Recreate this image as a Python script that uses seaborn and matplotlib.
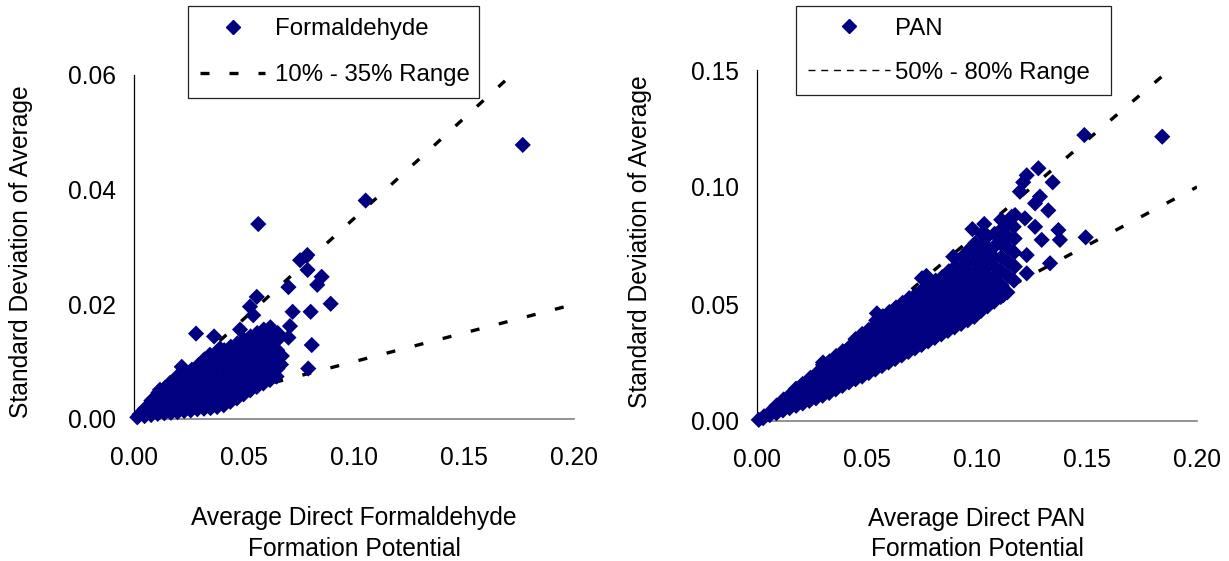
import matplotlib
matplotlib.use("Agg")
import matplotlib.pyplot as plt
from matplotlib.lines import Line2D
from matplotlib.ticker import FormatStrFormatter
import seaborn as sns
import pandas as pd

# ---------------- data ----------------
form_x = [
    0.0015, 0.0025,
    0.0048, 0.0052, 0.0050,
    0.0078, 0.0082, 0.0080, 0.0079,
    0.0108, 0.0112, 0.0110, 0.0109, 0.0111,
    0.0138, 0.0142, 0.0139, 0.0141, 0.0140,
    0.0168, 0.0172, 0.0170, 0.0169, 0.0171,
    0.0198, 0.0203, 0.0196, 0.0205, 0.0201, 0.0199,
    0.0228, 0.0232, 0.0229, 0.0231, 0.0227, 0.0233,
    0.0258, 0.0262, 0.0259, 0.0261, 0.0257, 0.0263,
    0.0288, 0.0292, 0.0289, 0.0291, 0.0287, 0.0293,
    0.0318, 0.0322, 0.0319, 0.0321, 0.0317, 0.0323, 0.0320,
    0.0348, 0.0352, 0.0349, 0.0351, 0.0347, 0.0353, 0.0350,
    0.0378, 0.0382, 0.0379, 0.0381, 0.0377, 0.0383, 0.0380,
    0.0408, 0.0412, 0.0409, 0.0411, 0.0407, 0.0413, 0.0410,
    0.0438, 0.0442, 0.0439, 0.0441, 0.0437, 0.0443, 0.0440,
    0.0468, 0.0472, 0.0469, 0.0471, 0.0467, 0.0473, 0.0470,
    0.0498, 0.0502, 0.0499, 0.0501, 0.0497, 0.0503, 0.0500,
    0.0528, 0.0532, 0.0529, 0.0531, 0.0527, 0.0533, 0.0530,
    0.0558, 0.0562, 0.0559, 0.0561, 0.0557, 0.0563, 0.0560,
    0.0588, 0.0592, 0.0589, 0.0591, 0.0587, 0.0593, 0.0590,
    0.0618, 0.0622, 0.0619, 0.0621, 0.0617, 0.0623, 0.0620,
    0.0648, 0.0652, 0.0649, 0.0651, 0.0647, 0.0653,
    0.1767, 0.1053, 0.0565, 0.0755, 0.0788, 0.0789, 0.0853, 0.0833,
    0.0702, 0.0558, 0.0894, 0.0721, 0.0803, 0.0527, 0.0542, 0.0709,
    0.0482, 0.0282, 0.0364, 0.0702, 0.0808, 0.0391, 0.0345, 0.0217,
    0.0792, 0.0209, 0.0164, 0.0118, 0.0672, 0.0668,
]
form_y = [
    0.0003, 0.0008,
    0.0005, 0.0012, 0.0018,
    0.0007, 0.0015, 0.0024, 0.0032,
    0.0009, 0.0018, 0.0028, 0.0038, 0.0046,
    0.0010, 0.0020, 0.0031, 0.0042, 0.0054,
    0.0011, 0.0023, 0.0035, 0.0048, 0.0060,
    0.0012, 0.0025, 0.0038, 0.0052, 0.0066, 0.0075,
    0.0014, 0.0028, 0.0042, 0.0056, 0.0070, 0.0080,
    0.0015, 0.0030, 0.0045, 0.0060, 0.0075, 0.0086,
    0.0017, 0.0033, 0.0049, 0.0065, 0.0080, 0.0094,
    0.0018, 0.0034, 0.0050, 0.0066, 0.0082, 0.0098, 0.0104,
    0.0019, 0.0036, 0.0053, 0.0070, 0.0087, 0.0102, 0.0110,
    0.0021, 0.0038, 0.0055, 0.0072, 0.0090, 0.0106, 0.0114,
    0.0024, 0.0041, 0.0058, 0.0075, 0.0092, 0.0108, 0.0120,
    0.0030, 0.0046, 0.0062, 0.0079, 0.0096, 0.0112, 0.0126,
    0.0036, 0.0052, 0.0068, 0.0084, 0.0100, 0.0116, 0.0132,
    0.0043, 0.0058, 0.0074, 0.0090, 0.0106, 0.0122, 0.0138,
    0.0050, 0.0064, 0.0080, 0.0096, 0.0112, 0.0128, 0.0144,
    0.0056, 0.0070, 0.0086, 0.0102, 0.0118, 0.0134, 0.0150,
    0.0062, 0.0076, 0.0092, 0.0108, 0.0124, 0.0140, 0.0156,
    0.0068, 0.0082, 0.0098, 0.0114, 0.0130, 0.0146, 0.0160,
    0.0074, 0.0088, 0.0104, 0.0120, 0.0136, 0.0150,
    0.0478, 0.0381, 0.0340, 0.0277, 0.0286, 0.0260, 0.0248, 0.0234,
    0.0230, 0.0213, 0.0201, 0.0187, 0.0187, 0.0196, 0.0181, 0.0162,
    0.0156, 0.0149, 0.0144, 0.0142, 0.0129, 0.0123, 0.0112, 0.0091,
    0.0088, 0.0074, 0.0063, 0.0051, 0.0110, 0.0095,
]

pan_x = [
    0.0008,
    0.0028, 0.0032,
    0.0058, 0.0062,
    0.0088, 0.0092, 0.0089,
    0.0118, 0.0122, 0.0119, 0.0121,
    0.0148, 0.0152, 0.0149, 0.0151,
    0.0178, 0.0182, 0.0179, 0.0181, 0.0177,
    0.0208, 0.0212, 0.0209, 0.0211, 0.0207,
    0.0238, 0.0242, 0.0239, 0.0241, 0.0237, 0.0243,
    0.0268, 0.0272, 0.0269, 0.0271, 0.0267, 0.0273,
    0.0298, 0.0302, 0.0299, 0.0301, 0.0297, 0.0303, 0.0300,
    0.0328, 0.0332, 0.0329, 0.0331, 0.0327, 0.0333, 0.0330,
    0.0358, 0.0362, 0.0359, 0.0361, 0.0357, 0.0363, 0.0360,
    0.0388, 0.0392, 0.0389, 0.0391, 0.0387, 0.0393, 0.0390,
    0.0418, 0.0422, 0.0419, 0.0421, 0.0417, 0.0423, 0.0420,
    0.0448, 0.0452, 0.0449, 0.0451, 0.0447, 0.0453, 0.0450, 0.0448,
    0.0478, 0.0482, 0.0479, 0.0481, 0.0477, 0.0483, 0.0480, 0.0478,
    0.0508, 0.0512, 0.0509, 0.0511, 0.0507, 0.0513, 0.0510, 0.0508,
    0.0538, 0.0542, 0.0539, 0.0541, 0.0537, 0.0543, 0.0540, 0.0538, 0.0542,
    0.0568, 0.0572, 0.0569, 0.0571, 0.0567, 0.0573, 0.0570, 0.0568, 0.0572,
    0.0598, 0.0602, 0.0599, 0.0601, 0.0597, 0.0603, 0.0600, 0.0598, 0.0602,
    0.0628, 0.0632, 0.0629, 0.0631, 0.0627, 0.0633, 0.0630, 0.0628, 0.0632,
    0.0658, 0.0662, 0.0659, 0.0661, 0.0657, 0.0663, 0.0660, 0.0658, 0.0662,
    0.0688, 0.0692, 0.0689, 0.0691, 0.0687, 0.0693, 0.0690, 0.0688, 0.0692,
    0.0718, 0.0722, 0.0719, 0.0721, 0.0717, 0.0723, 0.0720, 0.0718, 0.0722,
    0.0748, 0.0752, 0.0749, 0.0751, 0.0747, 0.0753, 0.0750, 0.0748, 0.0752, 0.0750,
    0.0778, 0.0782, 0.0779, 0.0781, 0.0777, 0.0783, 0.0780, 0.0778, 0.0782,
    0.0808, 0.0812, 0.0809, 0.0811, 0.0807, 0.0813, 0.0810, 0.0808, 0.0812,
    0.0838, 0.0842, 0.0839, 0.0841, 0.0837, 0.0843, 0.0840, 0.0838, 0.0842,
    0.0868, 0.0872, 0.0869, 0.0871, 0.0867, 0.0873, 0.0870, 0.0868, 0.0872,
    0.0898, 0.0902, 0.0899, 0.0901, 0.0897, 0.0903, 0.0900, 0.0898, 0.0902,
    0.0928, 0.0932, 0.0929, 0.0931, 0.0927, 0.0933, 0.0930, 0.0928, 0.0932,
    0.0958, 0.0962, 0.0959, 0.0961, 0.0957, 0.0963, 0.0960, 0.0958, 0.0962,
    0.0988, 0.0992, 0.0989, 0.0991, 0.0987, 0.0993, 0.0990, 0.0988, 0.0992,
    0.1018, 0.1022, 0.1019, 0.1021, 0.1017, 0.1023, 0.1020, 0.1018, 0.1022,
    0.1048, 0.1052, 0.1049, 0.1051, 0.1047, 0.1053, 0.1050, 0.1048,
    0.1078, 0.1082, 0.1079, 0.1081, 0.1077, 0.1083, 0.1080,
    0.1108, 0.1112, 0.1109, 0.1111, 0.1107, 0.1113, 0.1110,
    0.1138, 0.1142, 0.1139, 0.1141, 0.1137, 0.1143,
    0.1168, 0.1172, 0.1169, 0.1171, 0.1167, 0.1173,
    0.1842, 0.1488, 0.1279, 0.1226, 0.1210, 0.1344, 0.1195, 0.1286,
    0.1264, 0.1324, 0.1218, 0.1264, 0.1158, 0.1033, 0.0979, 0.1370,
    0.1294, 0.1377, 0.1494, 0.1226, 0.1332, 0.1226, 0.1120, 0.0892,
    0.0300, 0.0545, 0.0770,
]
pan_y = [
    0.0005,
    0.0012, 0.0020,
    0.0025, 0.0040,
    0.0033, 0.0050, 0.0066,
    0.0045, 0.0062, 0.0080, 0.0092,
    0.0055, 0.0075, 0.0095, 0.0112,
    0.0065, 0.0085, 0.0105, 0.0125, 0.0138,
    0.0075, 0.0095, 0.0117, 0.0138, 0.0158,
    0.0086, 0.0108, 0.0130, 0.0152, 0.0175, 0.0185,
    0.0097, 0.0120, 0.0143, 0.0166, 0.0190, 0.0205,
    0.0108, 0.0132, 0.0156, 0.0180, 0.0204, 0.0228, 0.0240,
    0.0120, 0.0145, 0.0170, 0.0195, 0.0220, 0.0245, 0.0255,
    0.0135, 0.0160, 0.0185, 0.0210, 0.0235, 0.0260, 0.0278,
    0.0150, 0.0175, 0.0200, 0.0225, 0.0250, 0.0275, 0.0298,
    0.0165, 0.0190, 0.0215, 0.0240, 0.0265, 0.0290, 0.0315,
    0.0178, 0.0204, 0.0230, 0.0256, 0.0282, 0.0308, 0.0334, 0.0350,
    0.0190, 0.0216, 0.0242, 0.0268, 0.0294, 0.0320, 0.0346, 0.0372,
    0.0205, 0.0231, 0.0257, 0.0283, 0.0309, 0.0335, 0.0361, 0.0390,
    0.0220, 0.0246, 0.0272, 0.0298, 0.0324, 0.0350, 0.0376, 0.0405, 0.0430,
    0.0235, 0.0262, 0.0289, 0.0316, 0.0343, 0.0370, 0.0397, 0.0424, 0.0448,
    0.0250, 0.0277, 0.0304, 0.0331, 0.0358, 0.0385, 0.0412, 0.0439, 0.0466,
    0.0265, 0.0292, 0.0319, 0.0346, 0.0373, 0.0400, 0.0427, 0.0454, 0.0485,
    0.0280, 0.0308, 0.0336, 0.0364, 0.0392, 0.0420, 0.0448, 0.0476, 0.0505,
    0.0295, 0.0323, 0.0351, 0.0379, 0.0407, 0.0435, 0.0463, 0.0491, 0.0525,
    0.0310, 0.0338, 0.0366, 0.0394, 0.0422, 0.0450, 0.0478, 0.0506, 0.0540,
    0.0325, 0.0354, 0.0383, 0.0412, 0.0441, 0.0470, 0.0499, 0.0528, 0.0560, 0.0610,
    0.0340, 0.0369, 0.0398, 0.0427, 0.0456, 0.0485, 0.0514, 0.0543, 0.0575,
    0.0355, 0.0385, 0.0415, 0.0445, 0.0475, 0.0505, 0.0535, 0.0565, 0.0600,
    0.0370, 0.0400, 0.0430, 0.0460, 0.0490, 0.0520, 0.0550, 0.0580, 0.0615,
    0.0385, 0.0415, 0.0445, 0.0475, 0.0505, 0.0535, 0.0565, 0.0600, 0.0640,
    0.0400, 0.0430, 0.0460, 0.0490, 0.0520, 0.0550, 0.0585, 0.0620, 0.0660,
    0.0415, 0.0445, 0.0475, 0.0505, 0.0540, 0.0575, 0.0610, 0.0650, 0.0700,
    0.0430, 0.0465, 0.0500, 0.0535, 0.0570, 0.0605, 0.0640, 0.0680, 0.0730,
    0.0445, 0.0485, 0.0525, 0.0560, 0.0600, 0.0640, 0.0680, 0.0720, 0.0760,
    0.0470, 0.0510, 0.0550, 0.0590, 0.0630, 0.0670, 0.0710, 0.0750, 0.0800,
    0.0490, 0.0540, 0.0580, 0.0620, 0.0660, 0.0700, 0.0740, 0.0790,
    0.0510, 0.0560, 0.0610, 0.0660, 0.0700, 0.0750, 0.0800,
    0.0530, 0.0580, 0.0640, 0.0700, 0.0760, 0.0820, 0.0860,
    0.0550, 0.0620, 0.0680, 0.0740, 0.0790, 0.0850,
    0.0600, 0.0660, 0.0720, 0.0780, 0.0830, 0.0880,
    0.1215, 0.1222, 0.1080, 0.1050, 0.1020, 0.1020, 0.0980, 0.0959,
    0.0930, 0.0900, 0.0866, 0.0830, 0.0873, 0.0842, 0.0820, 0.0816,
    0.0774, 0.0774, 0.0785, 0.0709, 0.0674, 0.0631, 0.0538, 0.0702,
    0.0250, 0.0460, 0.0620,
]
assert len(form_x) == len(form_y) and len(pan_x) == len(pan_y)

# range lines (end points)
form_hi_x = [0.0, 0.175]
form_hi_y = [0.0, 0.0612]
form_lo_x = [0.0, 0.200]
form_lo_y = [0.0, 0.0200]
pan_hi_x = [0.0, 0.190]
pan_hi_y = [0.0, 0.1520]
pan_lo_x = [0.0, 0.200]
pan_lo_y = [0.0, 0.1000]

x_ticks = [0.00, 0.05, 0.10, 0.15, 0.20]
form_y_ticks = [0.00, 0.02, 0.04, 0.06]
pan_y_ticks = [0.00, 0.05, 0.10, 0.15]

series_labels = ["Formaldehyde", "PAN"]
range_labels = ["10% - 35% Range", "50% - 80% Range"]
x_labels = ["Average Direct Formaldehyde\nFormation Potential",
            "Average Direct PAN\nFormation Potential"]
y_label = "Standard Deviation of Average"

# ---------------- style ----------------
sns.set_style("white")
plt.rcParams["font.family"] = ["Liberation Sans", "DejaVu Sans"]
plt.rcParams["text.color"] = "black"
plt.rcParams["axes.labelcolor"] = "black"
FS = 17.7
LFS = 17.3
NAVY = "#000080"

W, H = 1229, 561
fig = plt.figure(figsize=(W / 100, H / 100), dpi=100)
fig.patch.set_facecolor("white")


def axes_rect(x0, x1, ytop, ybot):
    return [x0 / W, 1 - ybot / H, (x1 - x0) / W, (ybot - ytop) / H]


ax1 = fig.add_axes(axes_rect(134, 574, 75, 419))
ax2 = fig.add_axes(axes_rect(757, 1197, 70, 421))

DASH = (2.7, 6.0)
LW = 2.4

panels = [
    (ax1, form_x, form_y, form_hi_x, form_hi_y, form_lo_x, form_lo_y,
     form_y_ticks, (0, 0.06), x_labels[0], (-0.2295, 0.487), (0.5, -0.2529)),
    (ax2, pan_x, pan_y, pan_hi_x, pan_hi_y, pan_lo_x, pan_lo_y,
     pan_y_ticks, (0, 0.15), x_labels[1], (-0.2386, 0.51), (0.5, -0.2436)),
]

for (ax, px, py, hx, hy, lx, ly, yt, ylim, xlab, ylc, xlc) in panels:
    ln1, = ax.plot(hx, hy, color="black", lw=LW, zorder=2)
    ln2, = ax.plot(lx, ly, color="black", lw=LW, zorder=2)
    for ln in (ln1, ln2):
        ln.set_dashes(DASH)
        ln.set_dash_capstyle("butt")
    df = pd.DataFrame({"x": px, "y": py})
    sns.scatterplot(data=df, x="x", y="y", ax=ax, marker="D", s=68,
                    color=NAVY, edgecolor="none", linewidth=0,
                    clip_on=False, zorder=3, legend=False)
    ax.set_xlim(0, 0.2)
    ax.set_ylim(*ylim)
    ax.set_xticks(x_ticks)
    ax.set_yticks(yt)
    ax.xaxis.set_major_formatter(FormatStrFormatter("%.2f"))
    ax.yaxis.set_major_formatter(FormatStrFormatter("%.2f"))
    for s in ("top", "right"):
        ax.spines[s].set_visible(False)
    ax.spines["left"].set_color("black")
    ax.spines["left"].set_linewidth(0.9)
    ax.spines["bottom"].set_color("#808080")
    ax.spines["bottom"].set_linewidth(1.2)
    ax.tick_params(axis="both", direction="out", length=5, width=0.8,
                   color="#404040", labelsize=FS, labelcolor="black")
    ax.tick_params(axis="x", pad=14.5)
    ax.tick_params(axis="y", pad=8)
    ax.set_xlabel(xlab, fontsize=FS, linespacing=1.36, color="black")
    ax.set_ylabel(y_label, fontsize=FS, color="black")
    ax.xaxis.set_label_coords(*xlc)
    ax.yaxis.set_label_coords(*ylc)
    ax.set_facecolor("white")
    ax.grid(False)

# ---------------- legends ----------------
mk = Line2D([], [], marker="D", color=NAVY, linestyle="none", markersize=7.6)
d1 = Line2D([], [], color="black", lw=LW)
d1.set_dashes(DASH)
d2 = Line2D([], [], color="black", lw=1.0)
d2.set_dashes((5.0, 4.2))

leg1 = ax1.legend([mk, d1], [series_labels[0], range_labels[0]],
                  loc="upper left", mode="expand",
                  bbox_to_anchor=(188 / W, 1 - 97 / H, 291 / W, 91 / H),
                  bbox_transform=fig.transFigure, borderaxespad=0,
                  fontsize=LFS, frameon=True, fancybox=False,
                  edgecolor="#222222", framealpha=1, borderpad=0.5,
                  labelspacing=1.0, handlelength=2.72, handletextpad=0.42)
leg1.get_frame().set_linewidth(0.9)

leg2 = ax2.legend([mk, d2], [series_labels[1], range_labels[1]],
                  loc="upper left", mode="expand",
                  bbox_to_anchor=(796 / W, 1 - 92 / H, 315 / W, 86 / H),
                  bbox_transform=fig.transFigure, borderaxespad=0,
                  fontsize=LFS, frameon=True, fancybox=False,
                  edgecolor="#222222", framealpha=1, borderpad=0.48,
                  labelspacing=0.93, handlelength=3.42, handletextpad=0.2)
leg2.get_frame().set_linewidth(0.9)
for t in leg1.get_texts() + leg2.get_texts():
    t.set_color("black")

fig.savefig("out.png", dpi=100, facecolor="white")
